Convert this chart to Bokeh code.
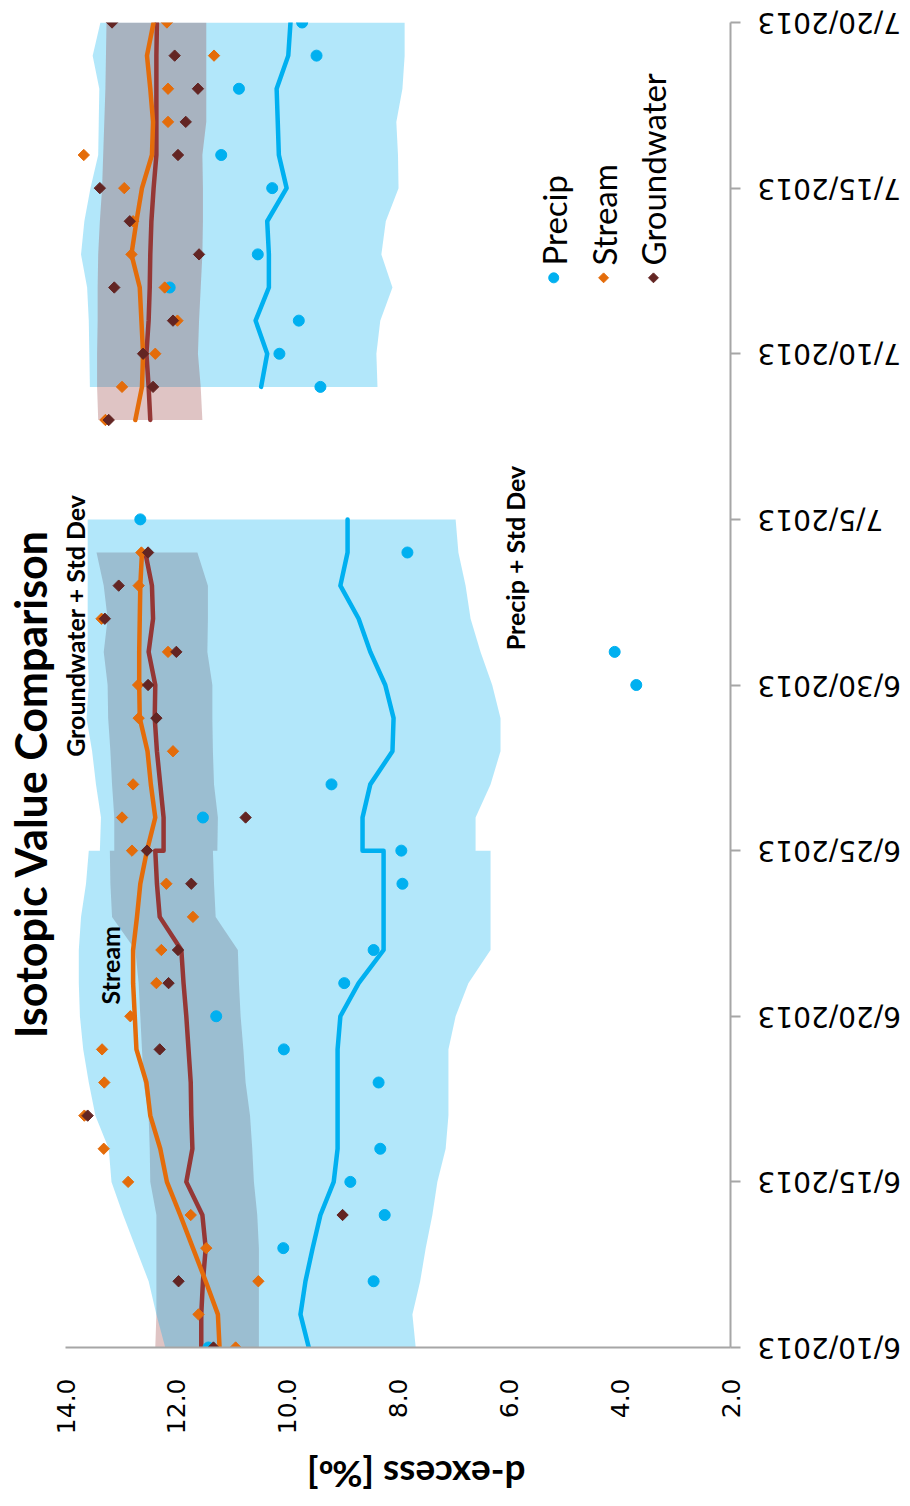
import numpy as np
import pandas as pd
from bokeh.plotting import figure
from bokeh.layouts import row, column
from bokeh.models import Range1d, FixedTicker, Label
from bokeh.core.properties import value
from bokeh.embed import file_html
from bokeh.resources import INLINE


def ms(d):
    return pd.Timestamp(d).value / 1e6


def ms_list(ds):
    return np.array([ms(d) for d in ds])


# ---------------- axes ----------------
dex_ticks = [14, 12, 10, 8, 6, 4, 2]
dex_tick_labels = ["14.0", "12.0", "10.0", "8.0", "6.0", "4.0", "2.0"]

date_ticks = ["2013-06-10", "2013-06-15", "2013-06-20", "2013-06-25",
              "2013-06-30", "2013-07-05", "2013-07-10", "2013-07-15", "2013-07-20"]
date_tick_labels = ["6/10/2013", "6/15/2013", "6/20/2013", "6/25/2013",
                    "6/30/2013", "7/5/2013", "7/10/2013", "7/15/2013", "7/20/2013"]

# ---------------- running means and +/- std dev, first campaign ----------------
# 6/25 has two records, so it appears twice
dates1 = ["2013-06-10", "2013-06-11", "2013-06-12", "2013-06-13", "2013-06-14",
          "2013-06-15", "2013-06-16", "2013-06-17", "2013-06-18", "2013-06-19",
          "2013-06-20", "2013-06-21", "2013-06-22", "2013-06-23", "2013-06-24",
          "2013-06-25", "2013-06-25", "2013-06-26", "2013-06-27", "2013-06-28",
          "2013-06-29", "2013-06-30", "2013-07-01", "2013-07-02", "2013-07-03",
          "2013-07-04", "2013-07-05"]
precip_mean1 = [9.61, 9.76, 9.67, 9.54, 9.40, 9.16, 9.09, 9.09, 9.09, 9.09, 9.04, 8.71,
                8.26, 8.26, 8.26, 8.26, 8.64, 8.64, 8.50, 8.10, 8.08, 8.23, 8.50, 8.71,
                9.04, 8.91, 8.91]
precip_up1 = [12.20, 12.36, 12.50, 12.73, 12.96, 13.17, 13.22, 13.46, 13.58, 13.68, 13.74,
              13.76, 13.76, 13.72, 13.63, 13.58, 13.38, 13.36, 13.45, 13.52, 13.62, 13.58,
              13.60, 13.60, 13.60, 13.60, 13.60]
precip_lo1 = [7.68, 7.74, 7.60, 7.50, 7.38, 7.29, 7.14, 7.09, 7.09, 7.09, 6.96, 6.73, 6.33,
              6.33, 6.33, 6.33, 6.60, 6.60, 6.33, 6.15, 6.15, 6.30, 6.51, 6.69, 6.78, 6.91,
              6.96]
stream_mean1 = [11.22, 11.25, 11.47, 11.70, 11.93, 12.17, 12.29, 12.47, 12.54, 12.72, 12.75,
                12.78, 12.78, 12.71, 12.65, 12.53, 12.53, 12.38, 12.46, 12.52, 12.66, 12.67,
                12.67, 12.66, 12.65, 12.62, None]
gw_mean1 = [11.55, 11.55, 11.52, 11.47, 11.53, 11.82, 11.71, 11.73, 11.74, 11.78, 11.82,
            11.87, 11.91, 12.30, 12.35, 12.38, 12.23, 12.23, 12.29, 12.35, 12.39, 12.38,
            12.50, 12.42, 12.44, 12.56, None]
gw_up1 = [12.38, 12.36, 12.36, 12.36, 12.36, 12.47, 12.48, 12.50, 12.59, 12.62, 12.65, 12.68,
          12.74, 13.16, 13.19, 13.20, 13.12, 13.12, 13.16, 13.19, 13.23, 13.24, 13.31, 13.24,
          13.31, 13.44, None]
gw_lo1 = [10.51, 10.51, 10.51, 10.51, 10.54, 10.60, 10.63, 10.67, 10.75, 10.79, 10.84, 10.87,
          10.89, 11.29, 11.32, 11.34, 11.26, 11.25, 11.32, 11.34, 11.35, 11.35, 11.44, 11.43,
          11.43, 11.62, None]

# ---------------- second campaign ----------------
dates2 = ["2013-07-08", "2013-07-09", "2013-07-10", "2013-07-11", "2013-07-12",
          "2013-07-13", "2013-07-14", "2013-07-15", "2013-07-16", "2013-07-17",
          "2013-07-18", "2013-07-19", "2013-07-20"]
precip_mean2 = [None, 10.47, 10.36, 10.57, 10.33, 10.33, 10.36, 10.01, 10.15, 10.17, 10.19,
                9.98, 9.94]
precip_up2 = [None, 13.56, 13.57, 13.58, 13.61, 13.72, 13.66, 13.55, 13.41, 13.40, 13.39,
              13.51, 13.37]
precip_lo2 = [None, 8.37, 8.39, 8.32, 8.10, 8.30, 8.22, 7.99, 8.00, 8.03, 7.92, 7.88, 7.88]
stream_mean2 = [12.74, 12.62, 12.60, 12.63, 12.66, 12.81, 12.72, 12.62, 12.44, 12.42, 12.47,
                12.53, 12.41]
gw_mean2 = [12.47, 12.50, 12.54, 12.50, 12.48, 12.47, 12.45, 12.41, 12.36, 12.36, 12.36,
            12.36, 12.35]
gw_up2 = [13.41, 13.43, 13.43, 13.42, 13.42, 13.41, 13.38, 13.34, 13.32, 13.30, 13.28,
          13.27, 13.26]
gw_lo2 = [11.53, 11.56, 11.61, 11.59, 11.56, 11.53, 11.52, 11.52, 11.53, 11.46, 11.46,
          11.46, 11.46]

# ---------------- individual samples ----------------
precip_dates = ["2013-06-10", "2013-06-12", "2013-06-13", "2013-06-14", "2013-06-15",
                "2013-06-16", "2013-06-18", "2013-06-19", "2013-06-20", "2013-06-21",
                "2013-06-22", "2013-06-24", "2013-06-25", "2013-06-26", "2013-06-27",
                "2013-06-30", "2013-07-01", "2013-07-04", "2013-07-05", "2013-07-09",
                "2013-07-10", "2013-07-11", "2013-07-12", "2013-07-13", "2013-07-15",
                "2013-07-16", "2013-07-18", "2013-07-19", "2013-07-20"]
precip_vals = [11.42, 8.44, 10.07, 8.24, 8.86, 8.32, 8.35, 10.06, 11.28, 8.97, 8.44, 7.92,
               7.94, 11.52, 9.20, 3.70, 4.09, 7.83, 12.65, 9.40, 10.14, 9.79, 12.12, 10.53,
               10.27, 11.19, 10.87, 9.47, 9.73]

stream_dates = ["2013-06-10", "2013-06-11", "2013-06-12", "2013-06-13", "2013-06-14",
                "2013-06-15", "2013-06-16", "2013-06-17", "2013-06-18", "2013-06-19",
                "2013-06-20", "2013-06-21", "2013-06-22", "2013-06-23", "2013-06-24",
                "2013-06-25", "2013-06-26", "2013-06-27", "2013-06-28", "2013-06-29",
                "2013-06-30", "2013-07-01", "2013-07-02", "2013-07-03", "2013-07-04",
                "2013-07-08", "2013-07-09", "2013-07-10", "2013-07-11", "2013-07-12",
                "2013-07-13", "2013-07-14", "2013-07-15", "2013-07-16", "2013-07-17",
                "2013-07-18", "2013-07-19", "2013-07-20"]
stream_vals = [10.93, 11.60, 10.52, 11.46, 11.74, 12.87, 13.31, 13.66, 13.30, 13.34, 12.83,
               12.36, 12.27, 11.70, 12.18, 12.80, 12.98, 12.78, 12.06, 12.68, 12.69, 12.15,
               13.35, 12.68, 12.63, 13.28, 12.98, 12.38, 11.98, 12.21, 12.81, 12.78, 12.94,
               13.67, 12.15, 12.15, 11.32, 12.17]

gw_dates = ["2013-06-10", "2013-06-12", "2013-06-14", "2013-06-17", "2013-06-19",
            "2013-06-21", "2013-06-22", "2013-06-24", "2013-06-25", "2013-06-26",
            "2013-06-29", "2013-06-30", "2013-07-01", "2013-07-02", "2013-07-03",
            "2013-07-04", "2013-07-08", "2013-07-09", "2013-07-10", "2013-07-11",
            "2013-07-12", "2013-07-13", "2013-07-14", "2013-07-15", "2013-07-16",
            "2013-07-17", "2013-07-18", "2013-07-19", "2013-07-20"]
gw_vals = [11.33, 11.96, 9.00, 13.60, 12.30, 12.14, 11.97, 11.73, 12.53, 10.75, 12.36, 12.51,
           12.00, 13.29, 13.04, 12.51, 13.22, 12.42, 12.60, 12.06, 13.12, 11.59, 12.84, 13.38,
           11.97, 11.83, 11.61, 12.03, 13.16]

# ---------------- styling ----------------
BLUE = "#00B0F0"
ORANGE = "#E46C0A"
MAROON_LINE = "#953735"
MAROON_PT = "#632523"
GW_BAND = "#913232"
AXIS_GREY = "#A6A6A6"
TEXT_FONT = "Lato"
TICK_FONT = "DejaVu Sans"

# page geometry (pixels)
W, H = 910, 1506
TITLE_W = 57                       # strip holding the rotated title
FRAME_L = 65                       # page x of the d-excess = 14 edge
TOP = 22
FRAME_W, FRAME_H = 665, 1325
AXIS_GAP = 15                      # room for the date-axis ticks
PAD_L = FRAME_L - TITLE_W
MAIN_W = PAD_L + FRAME_W + AXIS_GAP
MAIN_H = TOP + FRAME_H + 3
LEFT_W = TITLE_W + MAIN_W
SIDE_W = W - LEFT_W
STRIP_H = H - MAIN_H

x_lo, x_hi = 14, 2
px_per_dex = FRAME_W / (x_lo - x_hi)
y_start, y_end = ms("2013-06-10"), ms("2013-07-20")
px_per_ms = FRAME_H / (y_end - y_start)


def blank(width, height, xr, yr):
    f = figure(width=width, height=height, x_range=xr, y_range=yr,
               x_axis_location=None, y_axis_location=None,
               output_backend="svg", toolbar_location=None,
               min_border_left=0, min_border_right=0, min_border_top=0, min_border_bottom=0)
    f.outline_line_color = None
    f.grid.visible = False
    return f


p = figure(width=MAIN_W, height=MAIN_H,
           x_range=Range1d(x_lo, x_hi),
           y_range=Range1d(y_start, y_end),
           y_axis_type="datetime", y_axis_location="right",
           output_backend="svg", toolbar_location=None,
           min_border_left=PAD_L, min_border_right=AXIS_GAP,
           min_border_top=TOP, min_border_bottom=MAIN_H - TOP - FRAME_H)
p.outline_line_color = None
p.grid.visible = False
p.background_fill_color = "white"
p.border_fill_color = "white"


def band(dates, up, lo, color, alpha):
    y = ms_list(dates)
    up = np.array(up, dtype=float)
    lo = np.array(lo, dtype=float)
    ok = ~np.isnan(up) & ~np.isnan(lo)
    xs = np.concatenate([up[ok], lo[ok][::-1]])
    ys = np.concatenate([y[ok], y[ok][::-1]])
    p.patch(xs, ys, fill_color=color, fill_alpha=alpha, line_color=None)


# standard-deviation envelopes
band(dates2, precip_up2, precip_lo2, BLUE, 0.3)
band(dates1, gw_up1, gw_lo1, GW_BAND, 0.29)
band(dates1, precip_up1, precip_lo1, BLUE, 0.3)
band(dates2, gw_up2, gw_lo2, GW_BAND, 0.29)

# running means
for dates, vals, color in [(dates1, precip_mean1, BLUE), (dates2, precip_mean2, BLUE),
                           (dates1, gw_mean1, MAROON_LINE), (dates2, gw_mean2, MAROON_LINE),
                           (dates1, stream_mean1, ORANGE), (dates2, stream_mean2, ORANGE)]:
    p.line(np.array(vals, dtype=float), ms_list(dates), line_color=color, line_width=4.5,
           line_join="round", line_cap="round")

# samples
p.scatter(precip_vals, ms_list(precip_dates), marker="circle", size=11,
          fill_color=BLUE, line_color=BLUE)
p.scatter(stream_vals, ms_list(stream_dates), marker="square", angle=np.pi / 4, size=8,
          fill_color=ORANGE, line_color=ORANGE)
p.scatter(gw_vals, ms_list(gw_dates), marker="square", angle=np.pi / 4, size=8,
          fill_color=MAROON_PT, line_color=MAROON_PT)

# axis lines and ticks; the rotated labels are drawn in the strips around the plot
xa = p.xaxis[0]
xa.ticker = FixedTicker(ticks=dex_ticks)
xa.major_label_overrides = {t: "" for t in dex_ticks}
xa.major_label_text_font_size = "0px"
xa.major_label_standoff = 0
xa.major_tick_out = 0
xa.major_tick_in = 0
xa.minor_tick_out = 0
xa.minor_tick_in = 0
xa.axis_line_color = AXIS_GREY
xa.axis_line_width = 2

ya = p.yaxis[0]
tick_ms = [ms(d) for d in date_ticks]
ya.ticker = FixedTicker(ticks=tick_ms)
ya.major_label_overrides = {t: "" for t in tick_ms}
ya.major_label_text_font_size = "0px"
ya.major_label_standoff = 0
ya.major_tick_out = 10
ya.major_tick_in = 0
ya.minor_tick_out = 0
ya.minor_tick_in = 0
ya.axis_line_color = AXIS_GREY
ya.axis_line_width = 2
ya.major_tick_line_color = AXIS_GREY
ya.major_tick_line_width = 2


def text(x, day, s, size, angle, bold=True, align="center"):
    p.add_layout(Label(x=x, y=ms(day), text=s, angle=angle,
                       text_font=TEXT_FONT, text_font_size=size,
                       text_font_style="bold" if bold else "normal",
                       text_align=align, text_baseline="middle", text_color="black"))


# notes
text(13.82, "2013-07-01 19:00", "Groundwater + Std Dev", "25px", np.pi / 2)
text(13.19, "2013-06-21 13:00", "Stream", "25px", np.pi / 2)
text(5.88, "2013-07-03 20:00", "Precip + Std Dev", "25px", np.pi / 2)

# legend
legend_day = "2013-07-12 07:00"
legend_text_day = "2013-07-12 16:00"
legend_items = [("Precip", 5.19, "circle", 10, 0, BLUE),
                ("Stream", 4.29, "square", 7, np.pi / 4, ORANGE),
                ("Groundwater", 3.39, "square", 7, np.pi / 4, MAROON_PT)]
for name, lx, mk, sz, ang, col in legend_items:
    p.scatter([lx], [ms(legend_day)], marker=mk, size=sz, angle=ang,
              fill_color=col, line_color=col)
    text(lx, legend_text_day, name, "33px", np.pi / 2, bold=False, align="left")

# ---- title strip on the left (pixel coordinates, y downward) ----
title_fig = blank(TITLE_W, MAIN_H, Range1d(0, TITLE_W), Range1d(MAIN_H, 0))
title_fig.text(x=[30], y=[1035], text=["Isotopic Value Comparison"], angle=np.pi / 2,
               text_align="left", text_baseline="middle",
               text_font=value(TEXT_FONT), text_font_size="43px", text_font_style="bold",
               text_color="black")

# ---- bottom strip: d-excess tick labels and axis title, same d-excess scale ----
strip_x = Range1d(x_lo + FRAME_L / px_per_dex, x_lo - (LEFT_W - FRAME_L) / px_per_dex)
strip = blank(LEFT_W, STRIP_H, strip_x, Range1d(STRIP_H, 0))
strip.text(x=dex_ticks, y=[28] * len(dex_ticks), text=dex_tick_labels, angle=np.pi / 2,
           text_align="right", text_baseline="middle",
           text_font=value(TICK_FONT), text_font_size="25px", text_color="black")
strip.text(x=[x_lo - (525 - FRAME_L) / px_per_dex], y=[125], text=["d-excess [‰]"],
           angle=np.pi, text_align="left", text_baseline="middle",
           text_font=value(TEXT_FONT), text_font_size="37px", text_font_style="bold",
           text_color="black")

# ---- side panel: upside-down date labels on the same time scale ----
side_range = Range1d(y_start - (H - TOP - FRAME_H) / px_per_ms, y_end + TOP / px_per_ms)
side = blank(SIDE_W, H, Range1d(0, SIDE_W), side_range)
side.text(x=[757 - LEFT_W] * len(tick_ms), y=tick_ms, text=date_tick_labels,
          angle=np.pi, text_align="right", text_baseline="middle",
          text_font=value(TICK_FONT), text_font_size="28px", text_color="black")

layout = row(column(row(title_fig, p, spacing=0), strip, spacing=0), side, spacing=0)
open("out.html", "w").write(file_html(layout, INLINE))
